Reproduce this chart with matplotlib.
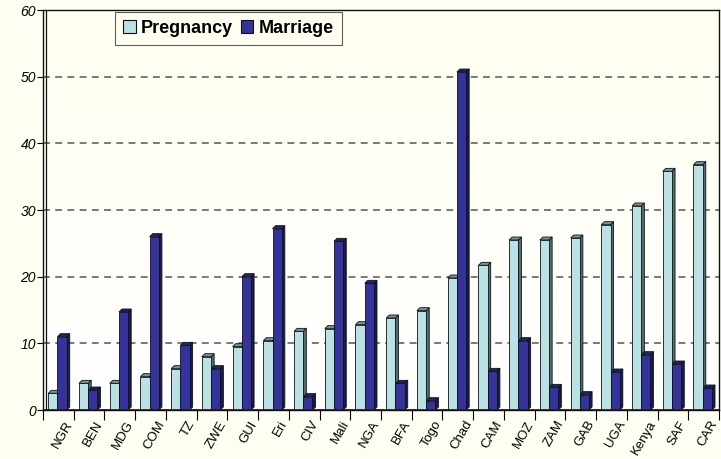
import numpy as np
import matplotlib
matplotlib.use("Agg")
import matplotlib.pyplot as plt
from matplotlib.patches import Polygon, Patch

countries = ["NGR", "BEN", "MDG", "COM", "TZ", "ZWE", "GUI", "Eri", "CIV", "Mali", "NGA",
             "BFA", "Togo", "Chad", "CAM", "MOZ", "ZAM", "GAB", "UGA", "Kenya", "SAF", "CAR"]
pregnancy = [2.5, 4.0, 4.0, 5.0, 6.2, 8.0, 9.5, 10.4, 11.8, 12.2, 12.8,
             13.8, 14.9, 19.8, 21.7, 25.5, 25.5, 25.8, 27.8, 30.6, 35.8, 36.8]
marriage = [11.0, 3.0, 14.7, 26.0, 9.7, 6.2, 20.0, 27.2, 2.0, 25.3, 19.0,
            4.0, 1.4, 50.7, 5.8, 10.4, 3.4, 2.3, 5.7, 8.3, 6.9, 3.3]

plt.rcParams['font.family'] = ['Liberation Sans', 'DejaVu Sans']

bg = '#FFFEF2'
fig = plt.figure(figsize=(7.21, 4.59), dpi=100, facecolor=bg)
ax = fig.add_axes([43 / 721, 49 / 459, 676 / 721, 400 / 459])
ax.set_xlim(-0.5, len(countries) - 0.5)
ax.set_ylim(0, 60)

# plot area: cream at top fading to white at the floor
grad = np.linspace(0, 1, 100).reshape(-1, 1)
ax.imshow(grad, extent=[-0.5, len(countries) - 0.5, 0, 60], aspect='auto',
          cmap=matplotlib.colors.LinearSegmentedColormap.from_list('g', ['#FFFFFF', '#FFFEF0']),
          origin='lower', zorder=0)

for y in range(10, 60, 10):
    ax.axhline(y, color='#555555', lw=1.1, ls=(0, (4.5, 3.5)), zorder=1)

x = np.arange(len(countries))
w = 0.3
dx, dy = 0.1, 0.45

def bars3d(xs, vals, front, top, side):
    for xc, h in zip(xs, vals):
        x0, x1 = xc - w / 2, xc + w / 2
        ax.add_patch(Polygon([(x1, 0), (x1 + dx, dy), (x1 + dx, h + dy), (x1, h)],
                             closed=True, fc=side, ec='#111111', lw=0.6, zorder=3))
        ax.add_patch(Polygon([(x0, h), (x0 + dx, h + dy), (x1 + dx, h + dy), (x1, h)],
                             closed=True, fc=top, ec='#111111', lw=0.6, zorder=3))
        ax.bar(xc, h, width=w, color=front, edgecolor='#111111', lw=0.6, zorder=4)

bars3d(x - 0.18, pregnancy, '#BAE1E4', '#6E9597', '#4F7072')
bars3d(x + 0.12, marriage, '#333399', '#22226E', '#1A1A50')

# floor line and double wall line
ax.axhline(0, color='#222222', lw=2.0, zorder=5)
ax.plot([0.005, 0.005], [0, 1], transform=ax.transAxes, color='#111111', lw=0.9, zorder=5)
for s in ax.spines.values():
    s.set_color('#111111')
    s.set_linewidth(1.0)

ax.set_yticks(range(0, 61, 10))
ax.set_yticklabels([str(v) for v in range(0, 61, 10)], fontstyle='italic', fontsize=10)
ax.tick_params(axis='y', length=4, width=0.8, pad=1)

ax.set_xticks(np.arange(-0.5, len(countries), 1.0))
ax.set_xticklabels([])
ax.tick_params(axis='x', length=7, width=0.8, direction='out')
for xc, lab in zip(x, countries):
    ax.text(xc + 0.2, -1.3, lab, rotation=60, ha='right', va='top', rotation_mode='anchor',
            fontsize=9.5)

handles = [Patch(fc='#BAE1E4', ec='#111111', lw=0.8), Patch(fc='#333399', ec='#111111', lw=0.8)]
leg = fig.legend(handles, ['Pregnancy', 'Marriage'], loc='upper left',
                 bbox_to_anchor=(115 / 721, 1 - 12 / 459), ncol=2, frameon=True, fancybox=False,
                 prop={'weight': 'bold', 'size': 13}, handlelength=0.7, handleheight=0.7,
                 handletextpad=0.3, columnspacing=0.4, borderpad=0.45, borderaxespad=0)
leg.get_frame().set_edgecolor('#333333')
leg.get_frame().set_facecolor(bg)
leg.get_frame().set_linewidth(0.8)

fig.savefig('out.png', dpi=100, facecolor=bg)
